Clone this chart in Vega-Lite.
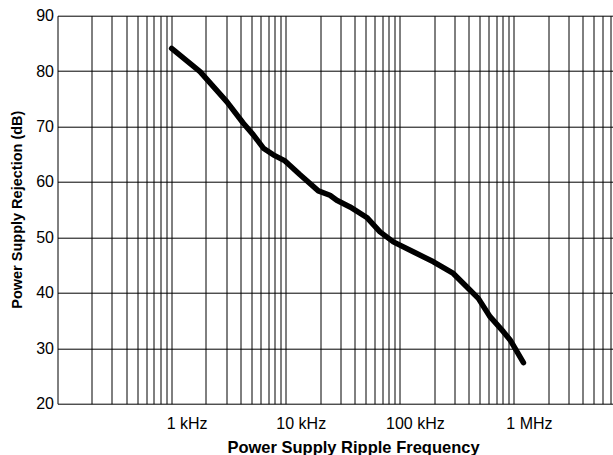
{
  "$schema": "https://vega.github.io/schema/vega-lite/v6.json",
  "width": 556,
  "height": 388,
  "autosize": {"type": "none"},
  "padding": {"left": 57.5, "top": 15.7, "right": 0, "bottom": 51.3},
  "background": "white",
  "config": {"view": {"stroke": null}, "font": "Liberation Sans"},
  "data": {
    "values": [
      {"freq": 1000, "psrr": 84.1},
      {"freq": 1774, "psrr": 79.9},
      {"freq": 3041, "psrr": 74.5},
      {"freq": 4250, "psrr": 70.6},
      {"freq": 5200, "psrr": 68.5},
      {"freq": 6370, "psrr": 66.1},
      {"freq": 7780, "psrr": 64.9},
      {"freq": 9860, "psrr": 63.8},
      {"freq": 13350, "psrr": 61.3},
      {"freq": 19300, "psrr": 58.4},
      {"freq": 24400, "psrr": 57.6},
      {"freq": 28000, "psrr": 56.7},
      {"freq": 36600, "psrr": 55.5},
      {"freq": 51300, "psrr": 53.6},
      {"freq": 67000, "psrr": 51.0},
      {"freq": 87700, "psrr": 49.2},
      {"freq": 131000, "psrr": 47.4},
      {"freq": 197000, "psrr": 45.6},
      {"freq": 294000, "psrr": 43.5},
      {"freq": 385000, "psrr": 41.1},
      {"freq": 487000, "psrr": 39.0},
      {"freq": 617000, "psrr": 35.7},
      {"freq": 807000, "psrr": 33.0},
      {"freq": 925000, "psrr": 31.5},
      {"freq": 1210000, "psrr": 27.4}
    ]
  },
  "mark": {"type": "line", "color": "black", "strokeWidth": 5.5, "strokeCap": "round", "strokeJoin": "round", "clip": true},
  "encoding": {
    "x": {
      "field": "freq",
      "type": "quantitative",
      "scale": {"type": "log", "domain": [100, 7450000], "nice": false},
      "axis": {
        "values": [100, 200, 300, 400, 500, 600, 700, 800, 900,
                   1000, 2000, 3000, 4000, 5000, 6000, 7000, 8000, 9000,
                   10000, 20000, 30000, 40000, 50000, 60000, 70000, 80000, 90000,
                   100000, 200000, 300000, 400000, 500000, 600000, 700000, 800000, 900000,
                   1000000, 2000000, 3000000, 4000000, 5000000, 6000000, 7000000],
        "labelExpr": "datum.value == 1000 ? '1 kHz' : datum.value == 10000 ? '10 kHz' : datum.value == 100000 ? '100 kHz' : datum.value == 1000000 ? '1 MHz' : ''",
        "grid": true,
        "gridColor": "#000",
        "gridWidth": 1,
        "gridOpacity": 1,
        "domain": false,
        "ticks": false,
        "tickSize": 0,
        "labelFontSize": 16,
        "labelColor": "black",
        "labelPadding": 12,
        "labelOffset": 15,
        "labelOverlap": false,
        "labelFlush": false,
        "labelBound": false,
        "title": "Power Supply Ripple Frequency",
        "titleFontSize": 16.5,
        "titleFontWeight": "bold",
        "titleColor": "black",
        "titleX": 295.5,
        "titleY": 48.5,
        "titleAlign": "center",
        "titleBaseline": "alphabetic"
      }
    },
    "y": {
      "field": "psrr",
      "type": "quantitative",
      "scale": {"domain": [20, 90], "nice": false},
      "axis": {
        "values": [20, 30, 40, 50, 60, 70, 80, 90],
        "grid": true,
        "gridColor": "#000",
        "gridWidth": 1,
        "gridOpacity": 1,
        "domain": false,
        "ticks": false,
        "tickSize": 0,
        "labelFontSize": 16,
        "labelColor": "black",
        "labelPadding": 4,
        "labelOverlap": false,
        "labelFlush": false,
        "title": "Power Supply Rejection (dB)",
        "titleFontSize": 14.5,
        "titleFontWeight": "bold",
        "titleColor": "black",
        "titleAngle": 270,
        "titleX": -36,
        "titleY": 193.5,
        "titleAlign": "center",
        "titleBaseline": "alphabetic"
      }
    }
  }
}
